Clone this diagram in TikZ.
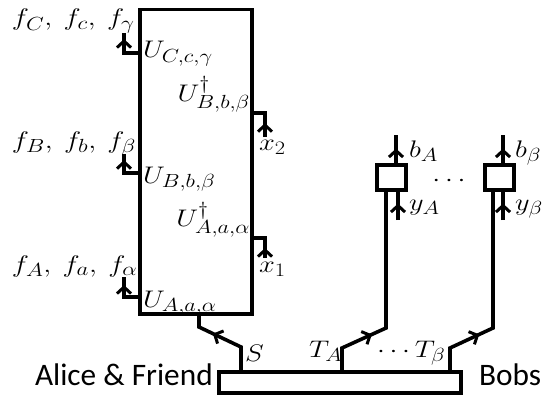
\RequirePackage{fix-cm}
\documentclass[tikz,border=0pt]{standalone}
\usepackage{fontspec}
\newfontfamily\carlito{Carlito}
\DeclareMathSizes{24}{24}{19}{15}
\usetikzlibrary{arrows.meta,decorations.markings}
\newcommand{\wlab}[1]{\scalebox{1.18}[1]{$#1$}}
\newcommand{\flab}[1]{\scalebox{1.21}[1]{$#1$}}
\tikzset{
  >={Straight Barb[length=6.5pt,width=14pt,line width=3pt]},
  wire/.style={line width=3.6pt,line join=miter},
  arrowat/.style={postaction={decorate,decoration={markings,mark=at position #1 with {\arrow{>}}}}},
  lab/.style={inner sep=0pt,outer sep=0pt,font=\fontsize{24}{28}\selectfont},
  txt/.style={inner sep=0pt,outer sep=0pt,font=\carlito\fontsize{31.3}{35}\selectfont},
  box/.style={draw,line width=3.6pt,inner sep=0pt,outer sep=0pt,fill=white},
}
\begin{document}
\begin{tikzpicture}[x=1pt,y=-1pt]
\useasboundingbox (0,0) rectangle (559,396);
% main rectangle
\node[box,anchor=north west,minimum width=112pt,minimum height=304.5pt] (R) at (140,9.5) {};
% bar
\node[box,anchor=north west,minimum width=242pt,minimum height=21pt] (bar) at (219,372) {};
% small boxes
\node[box,minimum width=29pt,minimum height=25pt] (bA) at (391.5,177.5) {};
\node[box,minimum width=29pt,minimum height=25pt] (bB) at (499.5,177.5) {};

% left brackets
\coordinate (cC) at (124,53);  \coordinate (eC) at (124,33);
\coordinate (cB) at (124,173); \coordinate (eB) at (124,154);
\coordinate (cA) at (124,297); \coordinate (eA) at (124,277);
\draw[wire] (R.west |- cC) -- (cC) -- (eC);
\draw[wire] (R.west |- cB) -- (cB) -- (eB);
\draw[wire] (R.west |- cA) -- (cA) -- (eA);
\path[arrowat=0.7] (cC) -- (eC);
\path[arrowat=0.68] (cB) -- (eB);
\path[arrowat=0.6] (cA) -- (eA);

% right brackets
\coordinate (dB) at (265,113); \coordinate (gB) at (265,137);
\coordinate (dA) at (265,238); \coordinate (gA) at (265,258);
\draw[wire] (R.east |- dB) -- (dB) -- (gB);
\draw[wire] (R.east |- dA) -- (dA) -- (gA);
\path[arrowat=0.58] (gB) -- (dB);
\path[arrowat=0.5] (gA) -- (dA);

% S wire
\coordinate (s1) at (199,327); \coordinate (s2) at (241,347);
\draw[wire] (bar.north -| s2) -- (s2) -- (s1) -- (R.south -| s1);
\path[arrowat=0.67] (s2) -- (s1);

% T_A wire
\coordinate (ta1) at (342,348); \coordinate (ta2) at (386,328);
\draw[wire] (bar.north -| ta1) -- (ta1) -- (ta2) -- (bA.south -| ta2);
\path[arrowat=0.68] (ta1) -- (ta2);
% T_beta wire
\coordinate (tb1) at (450,348); \coordinate (tb2) at (493,328);
\draw[wire] (bar.north -| tb1) -- (tb1) -- (tb2) -- (bB.south -| tb2);
\path[arrowat=0.68] (tb1) -- (tb2);

% inputs y and outputs b
\coordinate (yA) at (398,220); \coordinate (oA) at (396,135);
\coordinate (yB) at (503,220); \coordinate (oB) at (503,135);
\draw[wire,arrowat=0.55] (yA) -- (bA.south -| yA);
\draw[wire,arrowat=0.55] (bA.north -| oA) -- (oA);
\draw[wire,arrowat=0.55] (yB) -- (bB.south -| yB);
\draw[wire,arrowat=0.55] (bB.north -| oB) -- (oB);

% labels
\node[lab,anchor=base west] (fC) at (12,26) {\flab{f_C,\mkern4mu f_c,\mkern4mu f_\gamma}};
\node[lab,anchor=base west] (fB) at (12,148) {\flab{f_B,\mkern4mu f_b,\mkern4mu f_\beta}};
\node[lab,anchor=base west] (fA) at (12,272) {\flab{f_A,\mkern4mu f_a,\mkern4mu f_\alpha}};
\node[lab,anchor=base west] (UC) at (143,58) {\wlab{U_{C,c,\gamma}}};
\node[lab,anchor=base west] (UB) at (143,183) {\wlab{U_{B,b,\beta}}};
\node[lab,anchor=base west] (UA) at (143,307) {\wlab{U_{A,a,\alpha}}};
\node[lab,anchor=south east] (UdB) at (250,112) {\wlab{U^\dagger_{B,b,\beta}}};
\node[lab,anchor=south east] (UdA) at (250,237) {\wlab{U^\dagger_{A,a,\alpha}}};
\node[lab,anchor=north west] (x2) at (259,140) {\wlab{x_2}};
\node[lab,anchor=north west] (x1) at (259,262) {\wlab{x_1}};
\node[lab,anchor=base west] (S) at (245,361) {\wlab{S}};
\node[lab,anchor=base west] (TA) at (309,357) {\wlab{T_A}};
\node[lab,anchor=base west] (TB) at (377,357) {\wlab{\cdots T_\beta}};
\node[lab,anchor=base] (dots) at (449,186) {\wlab{\cdots}};
\node[lab,anchor=base west] (bAl) at (409,157) {\wlab{b_A}};
\node[lab,anchor=base west] (bBl) at (515,157) {\wlab{b_\beta}};
\node[lab,anchor=base west] (yAl) at (409,210) {\wlab{y_A}};
\node[lab,anchor=base west] (yBl) at (515,210) {\wlab{y_\beta}};
\node[txt,anchor=base west] (alice) at (35,385) {Alice \& Friend};
\node[txt,anchor=base west] (bobs) at (479,385) {Bobs};
\end{tikzpicture}
\end{document}
